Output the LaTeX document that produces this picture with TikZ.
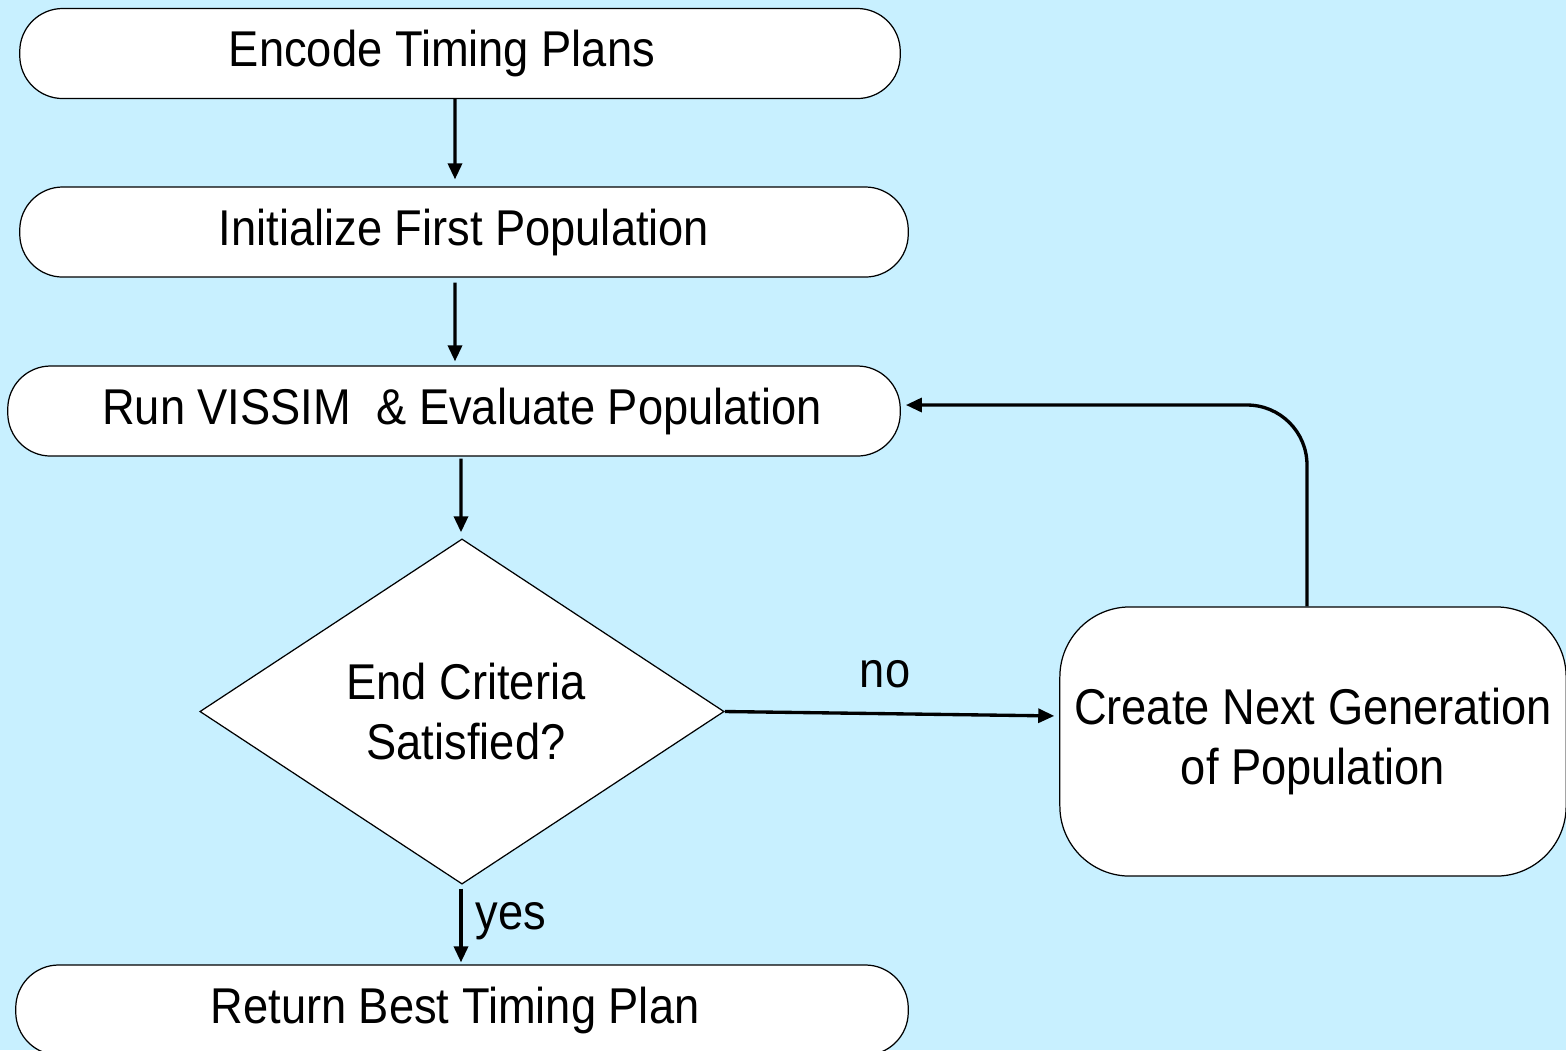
\documentclass[tikz,border=0pt]{standalone}
\usepackage{fontspec}
\setmainfont{Liberation Sans}[FakeStretch=0.9]
\usetikzlibrary{shapes.geometric,arrows.meta}
\definecolor{bg}{RGB}{200,240,255}
\tikzset{
  flowtext/.style={font=\fontsize{14.3pt}{16.9pt}\selectfont, align=center},
  pill/.style={flowtext, draw=black, line width=0.35pt, fill=white,
    rounded corners=0.43cm, inner sep=0pt, minimum height=0.9cm},
  decision/.style={flowtext, draw=black, line width=0.35pt, fill=white,
    diamond, inner sep=0pt, aspect=1.52, minimum width=5.24cm, minimum height=3.45cm},
  process/.style={flowtext, draw=black, line width=0.35pt, fill=white,
    rounded corners=0.7cm, inner sep=0pt},
  arr/.style={line width=0.95pt, -{Triangle[length=0.16cm,width=0.14cm]}},
  lbl/.style={flowtext, inner sep=0pt},
}
\begin{document}
\begin{tikzpicture}[x=0.01cm,y=-0.01cm]
  \fill[bg] (0,0) rectangle (1566,1050);
  \useasboundingbox (0,0) rectangle (1566,1050);
  \clip (0,0) rectangle (1566,1050);

  % main column of steps
  \node[pill, minimum width=8.8cm]  (enc)  at (460,53.5) {Encode Timing Plans\hspace*{0.36cm}};
  \node[pill, minimum width=8.88cm] (init) at (464,232)  {Initialize First Population};
  \node[pill, minimum width=8.92cm] (run)  at (454,411)  {\hspace*{0.16cm}Run VISSIM\ \ \& Evaluate Population};
  \node[decision] (crit) at (462,711.5) {\hspace*{0.08cm}End Criteria\\\hspace*{0.08cm}Satisfied?};
  \node[process, minimum width=5.06cm, minimum height=2.69cm] (next) at (1313,741.5)
       {Create Next Generation\\of Population};
  \node[pill, minimum width=8.92cm] (best) at (462,1010) {Return Best Timing Plan\hspace*{0.14cm}};

  % connectors
  \draw[arr, shorten >=0.07cm] ([xshift=-0.05cm]enc.south) -- ([xshift=-0.09cm]init.north);
  \draw[arr, shorten <=0.05cm, shorten >=0.04cm] ([xshift=-0.09cm]init.south) -- ([xshift=0.01cm]run.north);
  \draw[arr, shorten <=0.02cm, shorten >=0.06cm] ([xshift=0.07cm]run.south) -- ([xshift=-0.01cm]crit.north);
  \draw[arr, shorten >=0.05cm] (crit.east) -- ([yshift=0.255cm]next.west);
  \draw[arr, rounded corners=0.6cm, shorten >=0.05cm]
       ([xshift=-0.06cm]next.north) |- ([yshift=0.06cm]run.east);
  \draw[arr, shorten <=0.04cm, shorten >=0.02cm] ([xshift=-0.01cm]crit.south) -- ([xshift=-0.01cm]best.north);

  % branch labels
  \node[lbl] (nolbl)  at (885,674) {no};
  \node[lbl] (yeslbl) at (511,921) {yes};
\end{tikzpicture}
\end{document}
